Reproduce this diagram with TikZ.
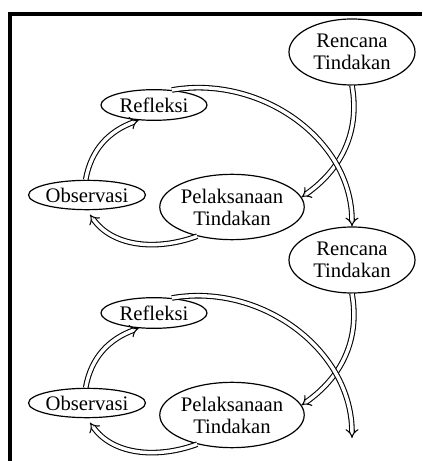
\documentclass[tikz,border=0pt]{standalone}
\usepackage{fontspec}
\setmainfont{Liberation Serif}
\usetikzlibrary{arrows.meta,shapes.geometric}

\begin{document}
\begin{tikzpicture}[
  x=0.75pt,
  y=0.75pt,
  stage/.style={
    draw,
    ellipse,
    line width=0.9pt,
    inner sep=0pt,
    align=center,
    font=\fontsize{15.5}{16.5}\selectfont
  },
  plan/.style={stage, minimum width=94.5pt, minimum height=49.5pt},
  act/.style={stage, minimum width=95pt, minimum height=49pt},
  refl/.style={stage, minimum width=79.5pt, minimum height=23pt},
  obs/.style={stage, minimum width=79.5pt, minimum height=22pt},
  flow/.style={double, double distance=2.6pt, line width=0.8pt, -{Implies}}
]
  \useasboundingbox (0,0) rectangle (422,461);
  \fill (8,0) rectangle (12,449);
  \fill (8,445) rectangle (422,449);

  \foreach \i/\dy in {1/0,2/-208} {
    \begin{scope}[yshift=\dy*0.75pt]
      \node[plan] (ren\i) at (352,409) {Rencana\\Tindakan};
      \node[refl] (ref\i) at (154,356) {Refleksi};
      \node[obs] (obs\i) at (87,266) {Observasi};
      \node[act] (pel\i) at (232,254) {Pelaksanaan\\Tindakan};
      \draw[flow] (ren\i.south) to[out=-80, in=35] (pel\i.8);
      \draw[flow] (obs\i.95) to[out=80, in=200] (ref\i.225);
      \draw[flow, shorten >=4pt] (pel\i.220) to[out=200, in=-55] (obs\i.south);
    \end{scope}
  }

  \coordinate (end) at (352,23);
  \draw[flow] (ref1.40) to[out=10, in=90] (ren2.north);
  \draw[flow] (ref2.40) to[out=10, in=90] (end);
\end{tikzpicture}
\end{document}
